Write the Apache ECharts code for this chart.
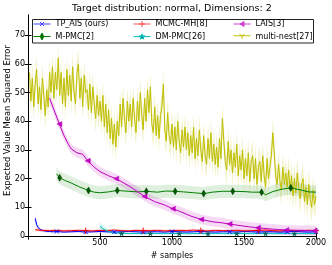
<!DOCTYPE html>
<html><head><meta charset="utf-8">
<script src="https://cdn.jsdelivr.net/npm/echarts@6/dist/echarts.min.js"></script>
<style>html,body{margin:0;padding:0;background:#fff}#c{width:332px;height:265px}</style>
</head><body><div id="c"></div>
<script>
// ---------- data ----------
const titleText = 'Target distribution: normal, Dimensions: 2';
const yTitleText = 'Expected Value Mean Squared Error';
const xTitleText = '# samples';
const legendNames = ['TP_AIS (ours)','M-PMC[2]','MCMC-MH[8]','DM-PMC[26]','LAIS[3]','multi-nest[27]'];
const yTickValues = [0,10,20,30,40,50,60,70];
const xTickValues = [500,1000,1500,2000];

// TP_AIS (ours)
const tpX = [50,60,70,80,90,100,125,150,175,200,250,300,350,400,450,500,550,600,650,700,750,800,850,900,950,1000,1050,1100,1150,1200,1250,1300,1350,1400,1450,1500,1550,1600,1650,1700,1750,1800,1850,1900,1950,2000];
const tpY = [6.2,4.0,3.0,2.4,2.1,1.9,1.7,1.6,1.5,1.6,1.4,1.5,1.6,1.4,1.5,1.6,1.5,1.4,1.5,1.6,1.5,1.4,1.5,1.5,1.4,1.6,1.5,1.4,1.5,1.6,1.5,1.4,1.5,1.5,1.4,1.6,1.5,1.4,1.5,1.5,1.4,1.5,1.6,1.5,1.4,1.5];
const tpS = [1.8,1.2,0.9,0.7,0.6,0.5,0.45,0.4,0.4,0.35,0.35,0.35,0.35,0.35,0.35,0.35,0.35,0.35,0.35,0.35,0.35,0.35,0.35,0.35,0.35,0.35,0.35,0.35,0.35,0.35,0.35,0.35,0.35,0.35,0.35,0.35,0.35,0.35,0.35,0.35,0.35,0.35,0.35,0.35,0.35,0.35];
const tpMarks = [200,400,600,800,1000,1200,1400,1600,1800,2000];

// MCMC-MH[8]
const mhX = [50,100,150,200,250,300,350,400,450,500,550,600,650,700,750,800,850,900,950,1000,1050,1100,1150,1200,1250,1300,1350,1400,1450,1500,1550,1600,1650,1700,1750,1800,1850,1900,1950,2000];
const mhY = [2.2,2.0,1.9,2.0,1.8,1.9,2.0,1.9,1.8,2.0,1.9,2.1,1.9,1.8,2.0,1.9,1.9,2.0,1.8,1.9,2.0,1.9,2.1,1.9,1.8,2.0,1.9,1.9,2.0,1.8,1.9,2.0,2.1,1.9,1.8,2.0,1.9,1.9,2.0,1.9];
const mhS = 0.5;
const mhMarks = [400,800,1200,1600,2000];

// LAIS[3]
const lX = [150,180,218,250,280,300,340,380,415,460,502,560,612,700,760,809,880,950,1006,1060,1130,1203,1280,1350,1400,1480,1540,1597,1680,1740,1794,1880,1940,1991,2000];
const lY = [48,44,39,35,32,30.4,29,28.5,26.2,24,22.4,21,20,17.5,15.5,13.8,12,10.8,9.5,8.5,7,5.8,5,4.6,4.2,3.6,3.2,2.9,2.5,2.3,2.1,2.0,1.95,1.9,1.9];
const lS = 1.7;
const lMarks = [218,415,612,809,1006,1203,1400,1597,1794,1991];

// M-PMC[2]
const gX = [198,220,260,300,350,420,460,502,560,620,700,760,822,900,960,1022,1080,1150,1220,1280,1350,1422,1500,1560,1622,1650,1700,1760,1825,1900,1950,2000];
const gY = [21.7,20.3,19.3,18.5,17.3,15.9,15.3,15.1,15.4,15.9,15.6,15.4,15.6,15.3,15.7,15.6,15.4,15.1,14.8,15.3,15.6,15.6,15.5,15.3,15.3,14.4,15.5,16.3,16.8,16.0,15.4,15.3];
const gS = 2.3;
const gMarks = [220,420,620,822,1022,1220,1422,1622,1825];

// DM-PMC[26]
const dX = [500,520,540,560,580,600,650,700,750,800,850,900,950,1000,1050,1100,1150,1200,1250,1300,1350,1400,1450,1500,1550,1600,1650,1700,1750,1800,1850,1900,1950,2000];
const dY = [3.4,2.6,2.0,1.6,1.3,1.1,0.95,0.9,0.9,0.85,0.9,0.9,0.85,0.9,0.9,0.85,0.9,0.9,0.85,0.9,0.9,0.85,0.9,0.9,0.85,0.9,0.9,0.85,0.9,0.9,0.85,0.9,0.9,0.85];
const dS = [1.5,1.2,0.9,0.7,0.5,0.4,0.3,0.3,0.3,0.3,0.3,0.3,0.3,0.3,0.3,0.3,0.3,0.3,0.3,0.3,0.3,0.3,0.3,0.3,0.3,0.3,0.3,0.3,0.3,0.3,0.3,0.3,0.3,0.3];
const dMarks = [650,850,1050,1250,1450,1650,1850];

// multi-nest[27]  (samples 10,20,...,2000)
const mnStep = 10;
const mnY = [
57,47,55,45,53,58,46,52,44,55,
49,42,51,45,57,50,59,48,57,51,
62,49,57,46,55,45,58,49,56,47,
59,50,46,57,60,48,55,45,56,50,
51,44,53,43,52,46,41,49,42,47,
40,49,38,46,36,44,34,41,32,39,
31,40,35,46,38,48,41,36,47,40,
46,38,48,41,36,47,40,50,42,37,
48,40,51,43,52,39,36,45,35,42,
34,42,45,53,37,33,43,35,32,39,
31,38,30,40,33,29,37,31,38,30,
36,28,35,29,38,27,34,28,37,30,
26,35,28,25,34,27,36,26,32,25,
31,24,34,27,41,33,26,23,33,25,
30,22,29,24,32,21,28,23,30,20,
27,21,29,19,26,28,20,27,18,24,
26,19,28,21,17,27,20,24,28,36,
29,21,18,25,19,16,24,18,22,17,
23,16,21,14,20,15,22,17,13,18,
20,12,17,11,18,13,10,16,11,14];
const mnS = 5;
const mnX = mnY.map((v, i) => mnStep * (i + 1));

// ---------- helpers ----------
const FONT = 'DejaVu Sans';
function band(xs, ys, spread, color) {
  const lo = ys.map((v, i) => v - (Array.isArray(spread) ? spread[i] : spread));
  const hi = ys.map((v, i) => v + (Array.isArray(spread) ? spread[i] : spread));
  return {
    type: 'custom', silent: true, z: 1, clip: true, animation: false,
    data: xs.map((x, i) => [x, lo[i], hi[i]]),
    encode: { x: 0, y: [1, 2] },
    renderItem(params, api) {
      if (params.dataIndex !== 0) return;
      const pts = [];
      for (let i = 0; i < xs.length; i++) pts.push(api.coord([xs[i], hi[i]]));
      for (let i = xs.length - 1; i >= 0; i--) pts.push(api.coord([xs[i], lo[i]]));
      return { type: 'polygon', shape: { points: pts }, style: { fill: color } };
    }
  };
}
function line(name, xs, ys, color, symbol, size, marks, mk, z) {
  return {
    type: 'line', name, z, animation: false, showSymbol: true, showAllSymbol: true,
    symbol, symbolSize: size, symbolRotate: mk.rotate || 0,
    data: xs.map((x, i) => marks.indexOf(x) >= 0 ? { value: [x, ys[i]] } : { value: [x, ys[i]], symbol: 'none' }),
    lineStyle: { color, width: 1 },
    itemStyle: { color: mk.fill, borderColor: mk.stroke, borderWidth: mk.bw },
    emphasis: { disabled: true }
  };
}
const SYM_X = 'path://M0,0L10,10M10,0L0,10';
const SYM_PLUS = 'path://M5,0L5,10M0,5L10,5';
const SYM_STAR = 'path://M5,0L6.18,3.6L10,3.6L6.9,5.9L8.1,9.5L5,7.3L1.9,9.5L3.1,5.9L0,3.6L3.82,3.6Z';
const SYM_TRI = 'path://M5,5L5,10M5,5L0.7,2.5M5,5L9.3,2.5';

// legend glyphs: short line with the marker in the middle
const LEG_X = 'path://M0,3.5L17,3.5M6.5,1.5L10.5,5.5M10.5,1.5L6.5,5.5';
const LEG_PLUS = 'path://M0,3.5L17,3.5M8.5,0.5L8.5,6.5M5.5,3.5L11.5,3.5';
const LEG_TRI = 'path://M0,3.5L17,3.5M6.5,3.5L10.5,1L10.5,6Z';
const LEG_DIA = 'path://M0,3.5L17,3.5M8.5,0L10.3,3.5L8.5,7L6.7,3.5Z';
const LEG_STAR = 'path://M0,3.5L17,3.5M8.5,0.8L9.2,2.8L11.3,2.8L9.6,4L10.2,6L8.5,4.8L6.8,6L7.4,4L5.7,2.8L7.8,2.8Z';
const LEG_TRID = 'path://M0,3.5L17,3.5M8.5,3.5L8.5,6.5M8.5,3.5L6,2M8.5,3.5L11,2';

const series = [
  band(mnX, mnY, mnS, 'rgba(191,191,0,0.2)'),
  band(tpX, tpY, tpS, 'rgba(0,0,255,0.15)'),
  band(gX, gY, gS, 'rgba(0,128,0,0.13)'),
  band(mhX, mhY, mhS, 'rgba(255,0,0,0.15)'),
  band(dX, dY, dS, 'rgba(0,191,191,0.18)'),
  band(lX, lY, lS, 'rgba(191,0,191,0.15)'),
  line('multi-nest[27]', mnX, mnY, '#bfbf00', SYM_TRI, 6, [], { fill: 'none', stroke: '#bfbf00', bw: 1 }, 2),
  line('TP_AIS (ours)', tpX, tpY, '#0000ff', SYM_X, 4, tpMarks, { fill: 'none', stroke: '#0000ff', bw: 1 }, 3),
  line('M-PMC[2]', gX, gY, '#008000', 'diamond', [4, 7], gMarks, { fill: '#005a00', stroke: '#003a00', bw: 0.5 }, 3),
  line('MCMC-MH[8]', mhX, mhY, '#ff0000', SYM_PLUS, 6, mhMarks, { fill: 'none', stroke: '#ff0000', bw: 1 }, 3),
  line('DM-PMC[26]', dX, dY, '#00bfbf', SYM_STAR, 5, dMarks, { fill: '#006060', stroke: '#006060', bw: 0.5 }, 3),
  line('LAIS[3]', lX, lY, '#bf00bf', 'triangle', 5, lMarks, { fill: '#bf00bf', stroke: '#bf00bf', bw: 0.5, rotate: 90 }, 3)
];

function legItem(name, icon, fill, stroke) {
  return { name, icon, itemStyle: { color: fill, borderColor: stroke, borderWidth: 1 } };
}

const tickStyle = { show: true, inside: true, length: 3.5, lineStyle: { color: '#000' } };
const lineStyleAxis = { show: true, lineStyle: { color: '#000', width: 1 } };
const legendBase = {
  orient: 'vertical', itemWidth: 17, itemHeight: 7, itemGap: 3.5, padding: 0, top: 19.5, z: 10,
  selectedMode: false, symbolKeepAspect: true,
  textStyle: { fontSize: 8, color: '#000', fontFamily: FONT, lineHeight: 9 }
};

const option = {
  animation: false,
  backgroundColor: '#fff',
  title: { text: titleText, left: 72, top: 3.5, padding: 0,
    textStyle: { fontSize: 9.5, fontWeight: 'normal', color: '#000', fontFamily: FONT } },
  grid: { left: 28, right: 16, top: 15, bottom: 27 },
  legend: [
    Object.assign({}, legendBase, { left: 33, data: [
      legItem(legendNames[0], LEG_X, 'rgba(0,0,0,0)', '#4040ff'),
      legItem(legendNames[1], LEG_DIA, '#005a00', '#008000') ] }),
    Object.assign({}, legendBase, { left: 133, data: [
      legItem(legendNames[2], LEG_PLUS, 'rgba(0,0,0,0)', '#ff5050'),
      legItem(legendNames[3], LEG_STAR, '#006060', '#00bfbf') ] }),
    Object.assign({}, legendBase, { left: 233, data: [
      legItem(legendNames[4], LEG_TRI, '#d040d0', '#d040d0'),
      legItem(legendNames[5], LEG_TRID, 'rgba(0,0,0,0)', '#bfbf00') ] })
  ],
  graphic: [
    { type: 'rect', z: 3, shape: { x: 32.5, y: 19.5, width: 281, height: 23.5 },
      style: { fill: '#fff', stroke: '#222', lineWidth: 1 } },
    { type: 'text', z: 3, x: 8, y: 120.5, rotation: Math.PI / 2,
      style: { text: yTitleText, fill: '#000', fontSize: 8.4, fontFamily: FONT, align: 'center', verticalAlign: 'middle' } }
  ],
  xAxis: [
    { type: 'value', min: 0, max: 2000, interval: 500, splitLine: { show: false },
      axisLine: lineStyleAxis, axisTick: tickStyle,
      axisLabel: { margin: 3, customValues: xTickValues, formatter: v => String(v), color: '#000', fontSize: 8, fontFamily: FONT },
      name: xTitleText, nameLocation: 'middle', nameGap: 13.5,
      nameTextStyle: { color: '#000', fontSize: 8, fontFamily: FONT } },
    { type: 'value', min: 0, max: 2000, interval: 500, splitLine: { show: false },
      axisLine: lineStyleAxis, axisTick: tickStyle, axisLabel: { show: false } }
  ],
  yAxis: [
    { type: 'value', min: 0, max: 77, interval: 10, splitLine: { show: false },
      axisLine: lineStyleAxis, axisTick: Object.assign({ customValues: yTickValues }, tickStyle),
      axisLabel: { margin: 3, customValues: yTickValues, formatter: v => String(v), color: '#000', fontSize: 8, fontFamily: FONT } },
    { type: 'value', min: 0, max: 77, interval: 10, splitLine: { show: false },
      axisLine: lineStyleAxis, axisTick: Object.assign({ customValues: yTickValues }, tickStyle),
      axisLabel: { show: false } }
  ],
  series
};
const chart = echarts.init(document.getElementById('c'), null, { renderer: 'canvas' });
chart.setOption(option);
</script>
</body></html>
